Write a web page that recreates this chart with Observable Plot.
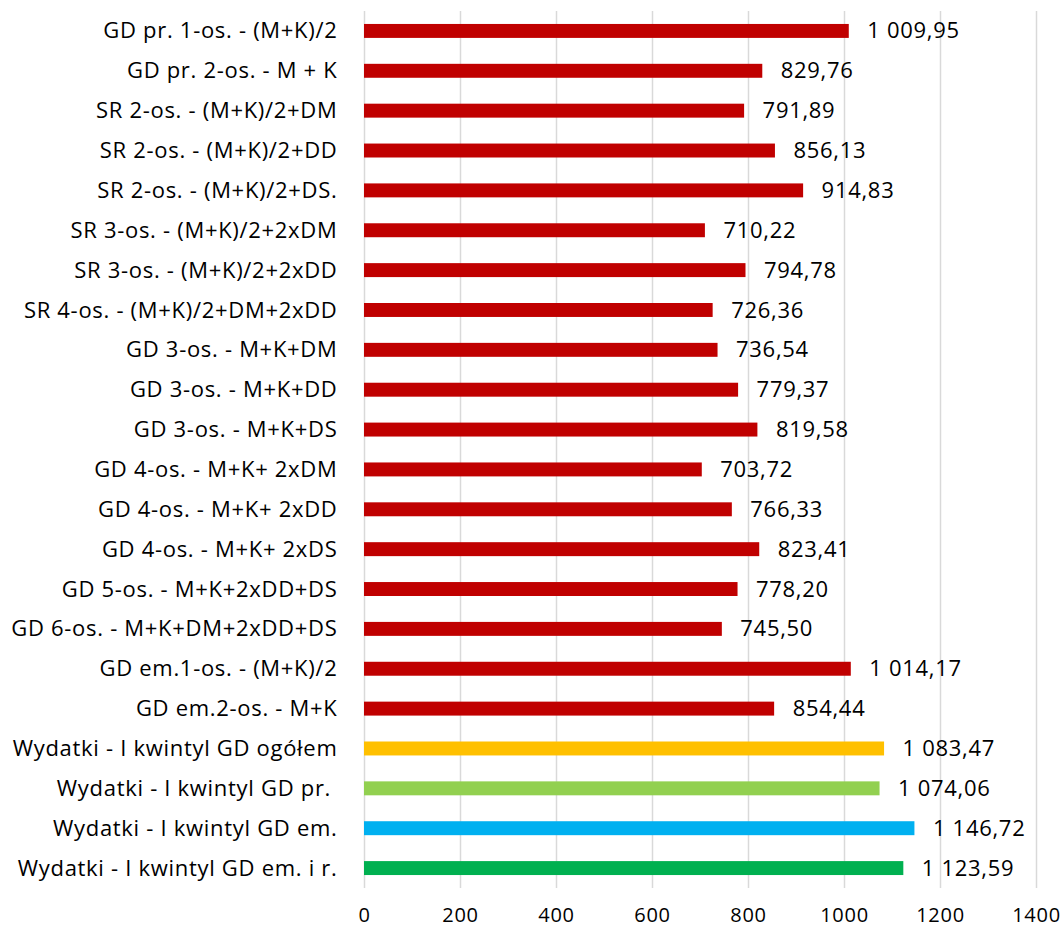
<!DOCTYPE html>
<html>
<head>
<meta charset="utf-8">
<script src="https://cdn.jsdelivr.net/npm/d3@7"></script>
<script src="https://cdn.jsdelivr.net/npm/@observablehq/plot@0.6"></script>
<style>
  html, body { margin: 0; padding: 0; background: #fff; }
  #chart svg { display: block; }
  #chart svg text { letter-spacing: 0.7px; }
</style>
</head>
<body>
<div id="chart"></div>
<script>
const categories = [
  "GD pr. 1-os. - (M+K)/2",
  "GD pr. 2-os. - M + K",
  "SR 2-os. - (M+K)/2+DM",
  "SR 2-os. - (M+K)/2+DD",
  "SR 2-os. - (M+K)/2+DS.",
  "SR 3-os. - (M+K)/2+2xDM",
  "SR 3-os. - (M+K)/2+2xDD",
  "SR 4-os. - (M+K)/2+DM+2xDD",
  "GD 3-os. - M+K+DM",
  "GD 3-os. - M+K+DD",
  "GD 3-os. - M+K+DS",
  "GD 4-os. - M+K+ 2xDM",
  "GD 4-os. - M+K+ 2xDD",
  "GD 4-os. - M+K+ 2xDS",
  "GD 5-os. - M+K+2xDD+DS",
  "GD 6-os. - M+K+DM+2xDD+DS",
  "GD em.1-os. - (M+K)/2",
  "GD em.2-os. - M+K",
  "Wydatki - I kwintyl GD ogółem",
  "Wydatki - I kwintyl GD pr.\u00a0",
  "Wydatki - I kwintyl GD em.",
  "Wydatki - I kwintyl GD em. i r."
];
const values = [
  1009.95, 829.76, 791.89, 856.13, 914.83, 710.22, 794.78, 726.36,
  736.54, 779.37, 819.58, 703.72, 766.33, 823.41, 778.20, 745.50,
  1014.17, 854.44, 1083.47, 1074.06, 1146.72, 1123.59
];
const groups = [
  "minimum", "minimum", "minimum", "minimum", "minimum", "minimum", "minimum", "minimum",
  "minimum", "minimum", "minimum", "minimum", "minimum", "minimum", "minimum", "minimum",
  "minimum", "minimum", "ogółem", "pr.", "em.", "em. i r."
];
const groupNames = ["minimum", "ogółem", "pr.", "em.", "em. i r."];
const groupColors = ["#c00000", "#ffc000", "#92d050", "#00b0f0", "#00b050"];
const xTicks = [0, 200, 400, 600, 800, 1000, 1200, 1400];

const data = categories.map((c, i) => ({category: c, value: values[i], group: groups[i]}));

const pl = d3.formatLocale({decimal: ",", thousands: " ", grouping: [3], currency: ["", " zł"]});
const fmt = pl.format(",.2f");

const font = "'Open Sans', sans-serif";

const chart = Plot.plot({
  width: 1064,
  height: 929,
  marginTop: 11,
  marginBottom: 41,
  marginLeft: 364,
  marginRight: 28,
  style: {fontFamily: font, fontSize: "20px", color: "#000", background: "#fff"},
  x: {domain: [0, 1400], ticks: xTicks, tickFormat: d => String(d)},
  y: {domain: categories, paddingInner: 0.65, paddingOuter: 0.325, round: false},
  color: {domain: groupNames, range: groupColors},
  marks: [
    Plot.ruleX(xTicks, {stroke: "#d9d9d9", strokeWidth: 1.5, strokeOpacity: 1}),
    Plot.barX(data, {x: "value", y: "category", fill: "group"}),
    Plot.text(data, {x: "value", y: "category", text: d => fmt(d.value), textAnchor: "start", dx: 18, fontSize: 22, fill: "#000"}),
    Plot.axisX({ticks: xTicks, tickFormat: d => String(d), tickSize: 0, tickPadding: 19, fontSize: 20, label: null}),
    Plot.axisY({tickSize: 0, tickPadding: 27, fontSize: 22, label: null})
  ]
});
document.getElementById("chart").appendChild(chart);
</script>
</body>
</html>
